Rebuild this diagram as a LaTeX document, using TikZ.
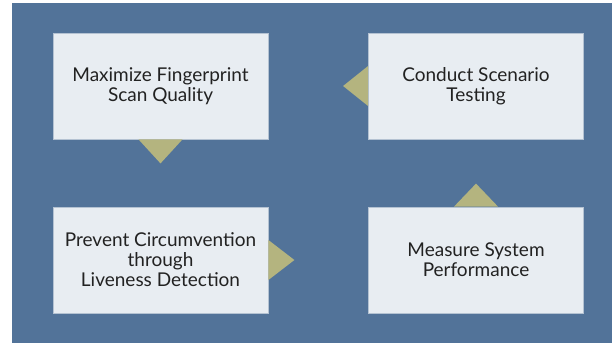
\documentclass[tikz,border=0pt]{standalone}
\usepackage{fontspec}
\setmainfont{Lato}
\usepackage{tikz}
\usetikzlibrary{positioning}

\definecolor{bgblue}{HTML}{527399}
\definecolor{boxfill}{HTML}{E8EDF2}
\definecolor{boxline}{HTML}{B4C2D2}
\definecolor{tipolive}{HTML}{B4B47F}
\definecolor{txtdark}{HTML}{222222}

\tikzset{
    stage/.style={rectangle, fill=boxfill, draw=boxline, line width=0.8pt,
        minimum width=215pt, minimum height=106pt, inner sep=0pt,
        align=center, text=txtdark,
        font=\fontsize{19}{20}\selectfont},
    pointer/.style={fill=tipolive}
}

\begin{document}
\begin{tikzpicture}[x=1pt,y=-1pt]
    \useasboundingbox (0,0) rectangle (612,343);
    % backdrop
    \fill[bgblue] (12,3) rectangle (612,343);

    % draw stages
    \node[stage] (maxq) at (160.5,86) {Maximize Fingerprint\\Scan Quality};
    \node[stage] (conduct) at (476,86) {Conduct Scenario\\Testing};
    \node[stage] (prevent) at (160.5,260) {Prevent Circumvention\\through\\Liveness Detection};
    \node[stage] (measure) at (476,260) {Measure System\\Performance};

    % draw pointers between stages
    \fill[pointer] ([xshift=-22pt]maxq.south) -- ([xshift=22pt]maxq.south)
        -- ([yshift=-24pt]maxq.south) -- cycle;%down
    \fill[pointer] ([yshift=20pt]prevent.east) -- ([yshift=-20pt]prevent.east)
        -- ([xshift=26pt]prevent.east) -- cycle;%right
    \fill[pointer] ([xshift=-22pt]measure.north) -- ([xshift=22pt]measure.north)
        -- ([yshift=23pt]measure.north) -- cycle;%up
    \fill[pointer] ([yshift=20pt]conduct.west) -- ([yshift=-20pt]conduct.west)
        -- ([xshift=-25pt]conduct.west) -- cycle;%left
\end{tikzpicture}
\end{document}
